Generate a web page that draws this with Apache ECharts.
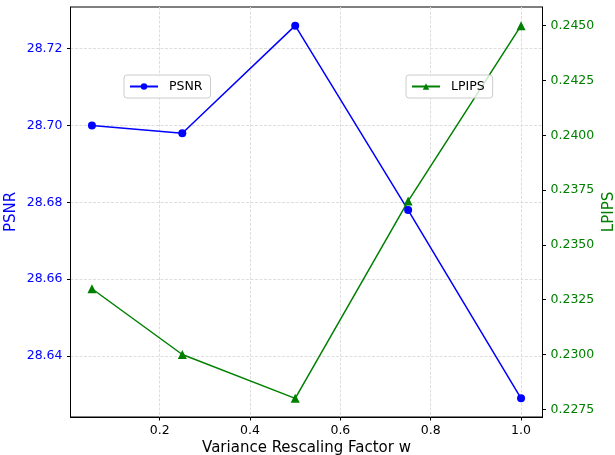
<!DOCTYPE html>
<html>
<head>
<meta charset="utf-8">
<script src="https://cdn.jsdelivr.net/npm/echarts@6/dist/echarts.min.js"></script>
<style>
  html, body { margin: 0; padding: 0; background: #fff; }
  #chart { width: 615px; height: 455px; }
</style>
</head>
<body>
<div id="chart"></div>
<script>
// data
var wValues = [0.05, 0.25, 0.5, 0.75, 1.0];
var psnrValues = [28.700, 28.698, 28.726, 28.678, 28.629];
var lpipsValues = [0.2330, 0.2300, 0.2280, 0.2370, 0.2450];

// tick labels
var xTicks = [0.2, 0.4, 0.6, 0.8, 1.0];
var psnrTicks = [28.64, 28.66, 28.68, 28.70, 28.72];
var lpipsTicks = [0.2275, 0.2300, 0.2325, 0.2350, 0.2375, 0.2400, 0.2425, 0.2450];

var chart = echarts.init(document.getElementById('chart'));

var font = 'DejaVu Sans';
var gridLine = { show: true, lineStyle: { color: '#dedede', width: 1, type: [3, 1.5] } };

function pairs(xs, ys) {
    return xs.map(function (x, i) { return [x, ys[i]]; });
}

var option = {
    animation: false,
    grid: {
        left: 70.5, right: 72.5, top: 7, bottom: 38,
        outerBoundsMode: 'none',
        containLabel: false,
        show: true, borderColor: '#000', borderWidth: 1,
        backgroundColor: 'transparent'
    },
    xAxis: {
        type: 'value',
        min: 0.0025, max: 1.0475,
        name: 'Variance Rescaling Factor w',
        nameLocation: 'middle',
        nameGap: 24,
        nameMoveOverlap: false,
        nameTextStyle: { fontFamily: font, fontSize: 15, color: '#000' },
        axisLine: { show: true, lineStyle: { color: '#000', width: 1 } },
        axisTick: { show: true, length: 3.5, customValues: xTicks, lineStyle: { color: '#000' } },
        axisLabel: {
            customValues: xTicks, margin: 7,
            fontFamily: font, fontSize: 12.5, color: '#000',
            formatter: function (v) { return v.toFixed(1); }
        },
        splitLine: gridLine
    },
    yAxis: [
        {
            type: 'value',
            position: 'left',
            min: 28.62415, max: 28.73085,
            name: 'PSNR',
            nameLocation: 'middle',
            nameGap: 52,
            nameMoveOverlap: false,
            nameTextStyle: { fontFamily: font, fontSize: 15, color: '#0000ff' },
            axisLine: { show: true, lineStyle: { color: '#000', width: 1 } },
            axisTick: { show: true, length: 3.5, customValues: psnrTicks, lineStyle: { color: '#000' } },
            axisLabel: {
                customValues: psnrTicks, margin: 8,
                fontFamily: font, fontSize: 12.5, color: '#0000ff',
                formatter: function (v) { return v.toFixed(2); }
            },
            splitLine: gridLine
        },
        {
            type: 'value',
            position: 'right',
            min: 0.22715, max: 0.24585,
            name: 'LPIPS',
            nameLocation: 'middle',
            nameGap: 59,
            nameMoveOverlap: false,
            nameTextStyle: { fontFamily: font, fontSize: 15, color: '#008000' },
            axisLine: { show: true, lineStyle: { color: '#000', width: 1 } },
            axisTick: { show: true, length: 3.5, customValues: lpipsTicks, lineStyle: { color: '#000' } },
            axisLabel: {
                customValues: lpipsTicks, margin: 8,
                fontFamily: font, fontSize: 12.5, color: '#008000',
                formatter: function (v) { return v.toFixed(4); }
            },
            splitLine: { show: false }
        }
    ],
    legend: [
        {
            data: ['PSNR'],
            left: 124, top: 75,
            padding: [5, 8, 5, 5],
            itemWidth: 28, itemHeight: 8,
            backgroundColor: 'rgba(255,255,255,0.8)',
            borderColor: '#cccccc', borderWidth: 1, borderRadius: 3,
            textStyle: { fontFamily: font, fontSize: 12.5, color: '#000', padding: [0, 0, 0, 6] }
        },
        {
            data: ['LPIPS'],
            left: 406, top: 75,
            padding: [5, 8, 5, 5],
            itemWidth: 28, itemHeight: 8,
            backgroundColor: 'rgba(255,255,255,0.8)',
            borderColor: '#cccccc', borderWidth: 1, borderRadius: 3,
            textStyle: { fontFamily: font, fontSize: 12.5, color: '#000', padding: [0, 0, 0, 6] }
        }
    ],
    series: [
        {
            name: 'PSNR',
            type: 'line',
            yAxisIndex: 0,
            data: pairs(wValues, psnrValues),
            symbol: 'circle',
            symbolSize: 8,
            itemStyle: { color: '#0000ff' },
            lineStyle: { color: '#0000ff', width: 1.5 }
        },
        {
            name: 'LPIPS',
            type: 'line',
            yAxisIndex: 1,
            data: pairs(wValues, lpipsValues),
            symbol: 'triangle',
            symbolSize: 9,
            itemStyle: { color: '#008000' },
            lineStyle: { color: '#008000', width: 1.5 }
        }
    ]
};

chart.setOption(option);
</script>
</body>
</html>
